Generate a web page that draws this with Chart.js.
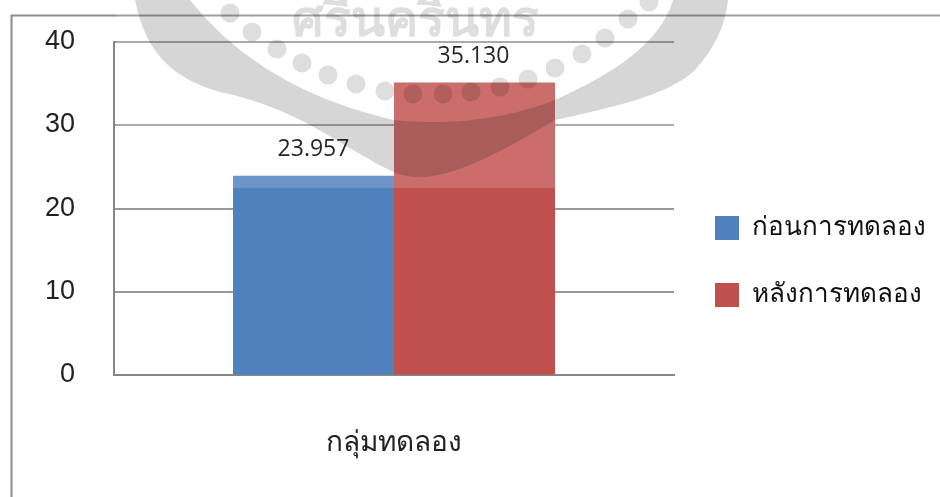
<!DOCTYPE html>
<html><head><meta charset="utf-8">
<style>html,body{margin:0;padding:0;background:#fff}canvas{display:block}</style>
<script src="https://cdn.jsdelivr.net/npm/chart.js@4"></script></head>
<body><div style="width:940px;height:497px"><canvas id="c" width="940" height="497"></canvas></div>
<script>
const categories = ['กลุ่มทดลอง'];
const seriesNames = ['ก่อนการทดลอง', 'หลังการทดลอง'];
const beforeValues = [23.957];
const afterValues = [35.130];
const tickLabels = [0, 10, 20, 30, 40];
const seriesColors = ['#4F81BD', '#C0504D'];
const thai = '"Noto Sans","Open Sans","DejaVu Sans",sans-serif';

const frame = {
  id: 'frame',
  beforeDraw(ch) {
    const c = ch.ctx; c.save();
    c.strokeStyle = '#8c8c8c'; c.lineWidth = 2;
    c.beginPath(); c.moveTo(11.5, 497); c.lineTo(11.5, 15.5); c.lineTo(940, 15.5); c.stroke();
    c.restore();
  }
};
const watermark = {
  id: 'watermark',
  afterDatasetsDraw(ch) {
    const c = ch.ctx; c.save();
    c.fillStyle = 'rgba(255,255,255,0.17)';
    c.fillRect(116, 0, 824, 188);
    c.globalCompositeOperation = 'multiply';
    c.fillStyle = '#d6d6d6';
    c.beginPath();
    c.moveTo(135, 0);
    c.bezierCurveTo(145, 50, 170, 78, 220, 92);
    c.bezierCurveTo(300, 108, 345, 150, 394, 172);
    c.bezierCurveTo(430, 188, 480, 165, 555, 120);
    c.bezierCurveTo(610, 108, 670, 95, 695, 70);
    c.bezierCurveTo(718, 45, 726, 20, 728, 0);
    c.lineTo(673, 0);
    c.bezierCurveTo(660, 45, 610, 75, 555, 100);
    c.bezierCurveTo(500, 122, 440, 125, 394, 120);
    c.bezierCurveTo(330, 105, 250, 75, 190, 0);
    c.closePath(); c.fill();
    c.fillStyle = '#dedede';
    const dots = [[230,13],[252,32],[277,49],[302,63],[328,75],[356,84],[385,91],[413,94],[443,94],[471,92],[500,87],[528,79],[555,68],[582,54],[605,38],[628,19],[649,2]];
    dots.forEach(d => { c.beginPath(); c.arc(d[0], d[1], 9.5, 0, Math.PI * 2); c.fill(); });
    c.font = 'bold 50px ' + thai;
    c.textAlign = 'center'; c.textBaseline = 'middle';
    c.fillText('ศรีนครินทร', 415, 22);
    c.restore();
  }
};
const valueLabels = {
  id: 'valueLabels',
  afterDraw(ch) {
    const c = ch.ctx; c.save();
    c.font = '23px "Open Sans"'; c.fillStyle = '#262626';
    c.textAlign = 'center'; c.textBaseline = 'middle';
    ch.data.datasets.forEach((ds, i) => {
      const bar = ch.getDatasetMeta(i).data[0];
      c.fillText(ds.data[0].toFixed(3), bar.x - i, bar.y - 26);
    });
    c.restore();
  }
};
const placeLegend = {
  id: 'placeLegend',
  afterLayout(ch) {
    const l = ch.legend;
    l.left = 674; l.right = 940; l.top = 174; l.bottom = 497;
  }
};
new Chart(document.getElementById('c'), {
  type: 'bar',
  data: {
    labels: categories,
    datasets: [
      { label: seriesNames[0], data: beforeValues, backgroundColor: seriesColors[0] },
      { label: seriesNames[1], data: afterValues, backgroundColor: seriesColors[1] }
    ]
  },
  options: {
    responsive: false, animation: false,
    layout: { padding: { left: 0, right: 4, top: 42, bottom: -14 } },
    datasets: { bar: { barPercentage: 1, categoryPercentage: 0.575 } },
    plugins: {
      tooltip: { enabled: false },
      title: { display: false },
      legend: {
        position: 'right', align: 'start', maxWidth: 266,
        labels: { boxWidth: 24, boxHeight: 24, padding: 41, color: '#111', font: { size: 26, family: thai } }
      }
    },
    scales: {
      x: {
        grid: { display: false, drawTicks: false },
        border: { color: '#868686', width: 2 },
        ticks: { color: '#222', padding: 51, font: { size: 28, family: thai } }
      },
      y: {
        min: 0, max: 40,
        afterFit(s) { s.width = 114; s.paddingTop = 0; s.paddingBottom = 0; },
        afterBuildTicks(s) { s.ticks = tickLabels.map(v => ({ value: v })); },
        grid: { color: '#999', lineWidth: 2, drawTicks: false },
        border: { color: '#868686', width: 2 },
        ticks: { color: '#222', padding: 39, labelOffset: -0.5, font: { size: 27, family: '"Liberation Sans"' } }
      }
    }
  },
  plugins: [frame, watermark, valueLabels, placeLegend]
});
</script></body></html>
